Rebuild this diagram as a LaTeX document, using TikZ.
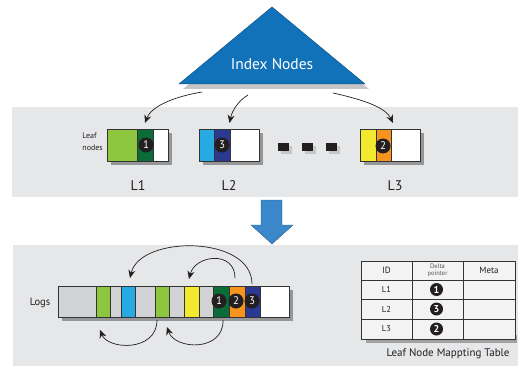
\documentclass[tikz,border=0pt]{standalone}
\usepackage{fontspec}
\setmainfont{PT Sans}
\usetikzlibrary{shadows,arrows.meta,calc}
\definecolor{panelgray}{HTML}{E6E7E8}
\definecolor{trib}{HTML}{1272B9}
\definecolor{arrb}{HTML}{3A87C9}
\definecolor{lgreen}{HTML}{8DC63F}
\definecolor{dkgreen}{HTML}{0B6B39}
\definecolor{lblue}{HTML}{27AAE1}
\definecolor{dkblue}{HTML}{2B3990}
\definecolor{yel}{HTML}{F2EA2E}
\definecolor{orng}{HTML}{F7941D}
\definecolor{lgray}{HTML}{D1D3D4}
\definecolor{edge}{HTML}{333333}
\definecolor{ink}{HTML}{231F20}
\definecolor{cellc}{HTML}{F3F3F4}
\begin{document}
\begin{tikzpicture}[x=1pt,y=-1pt,
  panel/.style={fill=panelgray,draw=none},
  seg/.style={draw=edge,line width=0.8pt,minimum height=#1,inner sep=0pt,outer sep=0pt,anchor=north west},
  seg/.default=32,
  bshadow/.style={drop shadow={shadow xshift=4pt,shadow yshift=-4pt,opacity=0.35,fill=black}},
  num/.style={circle,fill=ink,text=white,inner sep=0pt,minimum size=15pt,font=\fontsize{11}{11}\selectfont},
  tnum/.style={circle,fill=ink,text=white,inner sep=0pt,minimum size=13pt,font=\bfseries\fontsize{10}{10}\selectfont},
  conn/.style={-{Stealth[length=8pt,width=7pt]},line width=0.7pt,draw=ink},
  lbl/.style={text=ink,inner sep=0pt},
  cell/.style={draw=edge,line width=0.8pt,fill=cellc,inner sep=0pt,outer sep=0pt,anchor=north west},
  dashbox/.style={fill=ink,minimum width=11pt,minimum height=8pt,inner sep=0pt,
     drop shadow={shadow xshift=3pt,shadow yshift=-3pt,opacity=0.3}}
]
\useasboundingbox (0,0) rectangle (518,366);
% panels
\fill[panel] (12,107) rectangle (518,197);
\fill[panel] (13,245) rectangle (518,366);

% triangle
\coordinate (apex) at (272,7);
\coordinate (bl) at (179,84);
\coordinate (br) at (365,84);
\fill[trib,drop shadow={shadow xshift=4pt,shadow yshift=-5pt,opacity=0.45}] (apex) -- (br) -- (bl) -- cycle;
\draw[trib!70!black,line width=0.5pt] (apex) -- (br) -- (bl) -- cycle;
\node[text=white,font=\fontsize{15.5}{16}\selectfont] (idx) at (272,64) {Index Nodes};
\coordinate (o1) at (202,92);
\coordinate (o2) at (248,95);
\coordinate (o3) at (333,93);

% leaf nodes
\node[lbl,align=left,font=\fontsize{8}{12}\selectfont,anchor=east] (leaflbl) at (103,142) {Leaf\\nodes};

\node[seg,minimum width=61pt,fill=white,bshadow] (L1box) at (107,129) {};
\node[seg,minimum width=30pt,fill=lgreen] (L1a) at (107,129) {};
\node[seg,minimum width=16pt,fill=dkgreen] (L1b) at (137,129) {};
\node[seg,minimum width=15pt,fill=white] (L1c) at (153,129) {};
\node[num] (c1) at (146,145) {1};

\node[seg,minimum width=60pt,fill=white,bshadow] (L2box) at (199,129) {};
\node[seg,minimum width=15pt,fill=lblue] (L2a) at (199,129) {};
\node[seg,minimum width=16pt,fill=dkblue] (L2b) at (214,129) {};
\node[seg,minimum width=29pt,fill=white] (L2c) at (230,129) {};
\node[num] (c3) at (222,145) {3};

\node[dashbox] (d1) at (283,147) {};
\node[dashbox] (d2) at (307.5,147) {};
\node[dashbox] (d3) at (331.5,147) {};

\node[seg,minimum width=60pt,fill=white,bshadow] (L3box) at (360,129) {};
\node[seg,minimum width=16pt,fill=yel] (L3a) at (360,129) {};
\node[seg,minimum width=15pt,fill=orng] (L3b) at (376,129) {};
\node[seg,minimum width=29pt,fill=white] (L3c) at (391,129) {};
\node[num] (c2) at (383,146) {2};

\node[lbl,font=\fontsize{14}{14}\selectfont] (n1) at (138,186) {L1};
\node[lbl,font=\fontsize{14}{14}\selectfont] (n2) at (229,186) {L2};
\node[lbl,font=\fontsize{14}{14}\selectfont] (n3) at (395,186) {L3};

\draw[conn] (o1) .. controls (172,97) and (151,107) .. ([xshift=7.5pt,yshift=6pt]L1box.north);
\draw[conn] (o2) .. controls (238,101) and (232,111) .. ([xshift=0.5pt,yshift=6pt]L2box.north);
\draw[conn] (o3) .. controls (365,100) and (386,108) .. ([xshift=3pt,yshift=6pt]L3box.north);

% big down arrow
\fill[arrb,draw=arrb!70!black,line width=0.4pt] (261,200) -- (282,200) -- (282,225) -- (293,225) -- (272,244) -- (251,225) -- (261,225) -- cycle;

% logs
\node[lbl,font=\fontsize{10.5}{11}\selectfont] (logs) at (40,303) {Logs};
\node[seg=31pt,minimum width=231pt,fill=white,bshadow] (logbar) at (58,286) {};
\foreach \i/\x/\w/\c in {1/58/38/lgray,2/96/14/lgreen,3/110/11/lgray,4/121/14/lblue,5/135/20/lgray,6/155/14/lgreen,7/169/15/lgray,8/184/15/yel,9/199/14/lgray,10/213/16/dkgreen,11/229/16/orng,12/245/15/dkblue,13/260/29/white}
  \node[seg=31pt,minimum width=\w pt,fill=\c] (s\i) at (\x,286) {};
\node[num] (g1) at (219,301) {1};
\node[num] (g2) at (236,301) {2};
\node[num] (g3) at (252,301) {3};

\draw[conn] ([xshift=-0.5pt,yshift=2pt]s12.north) .. controls +(0,-49) and +(10,-43) .. ([xshift=2pt,yshift=8pt]s4.north);
\draw[conn] ([xshift=-2pt,yshift=8pt]s11.north) .. controls +(0,-28) and +(6,-24) .. ([xshift=-2.5pt,yshift=7pt]s8.north);
\draw[conn] ([xshift=-5pt,yshift=-3pt]s6.south) .. controls +(0,32) and +(8,20) .. ([xshift=-3pt,yshift=-13pt]s2.south);
\draw[conn] ([xshift=2pt,yshift=-3pt]s10.south) .. controls +(1,32) and +(8,23) .. ([xshift=5pt,yshift=-10pt]s6.south);

% table
\fill[black,opacity=0.3] (366,335) rectangle (517,343);
\foreach \r/\y/\h in {0/261/19,1/280/19,2/299/20,3/319/20}{
  \node[cell,minimum width=51pt,minimum height=\h pt] (t\r a) at (361,\y) {};
  \node[cell,minimum width=51pt,minimum height=\h pt] (t\r b) at (412,\y) {};
  \node[cell,minimum width=52pt,minimum height=\h pt] (t\r c) at (463,\y) {};
}
\node[lbl,font=\fontsize{9}{9}\selectfont] at (t0a) {ID};
\node[lbl,font=\fontsize{6.5}{7}\selectfont,align=center,text=ink!75] at (t0b) {Delta\\pointer};
\node[lbl,font=\fontsize{9}{9}\selectfont] at (t0c) {Meta};
\node[lbl,font=\fontsize{8.5}{9}\selectfont] at (t1a) {L1};
\node[lbl,font=\fontsize{8.5}{9}\selectfont] at (t2a) {L2};
\node[lbl,font=\fontsize{8.5}{9}\selectfont] at (t3a) {L3};
\node[tnum] (p1) at ([xshift=-1pt]t1b.center) {1};
\node[tnum] (p3) at ([xshift=-1pt]t2b.center) {3};
\node[tnum] (p2) at ([xshift=-1pt]t3b.center) {2};
\node[lbl,font=\fontsize{11}{11}\selectfont] (cap) at (448,354) {Leaf Node Mappting Table};
\end{tikzpicture}
\end{document}
